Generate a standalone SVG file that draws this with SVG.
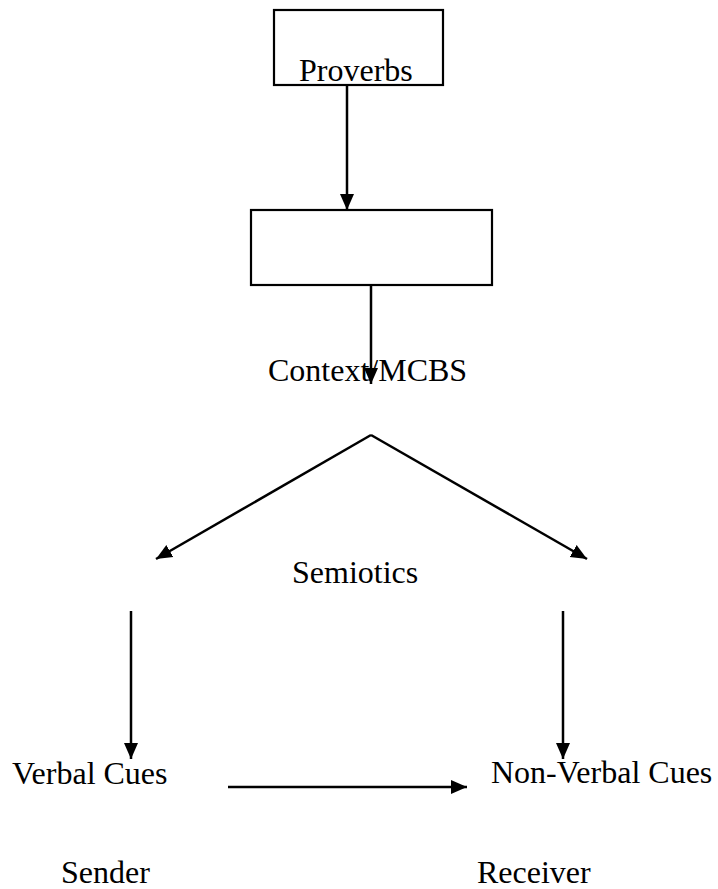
<svg xmlns="http://www.w3.org/2000/svg" width="718" height="889" viewBox="0 0 718 889">
<style>
text{font-family:"Liberation Serif","Times New Roman",serif;font-size:32px;fill:#000}
.box{fill:#fff;stroke:#000;stroke-width:2.2}
.c{fill:none;stroke:#000;stroke-width:2.5}
</style>
<defs>
<marker id="ah" markerUnits="userSpaceOnUse" markerWidth="18" markerHeight="16" refX="16" refY="8" orient="auto">
<path d="M0,1 L16,8 L0,15 Z" fill="#000"/>
</marker>
</defs>
<rect width="718" height="889" fill="#fff"/>
<g id="connectors">
<line class="c" x1="347" y1="85" x2="347" y2="210" marker-end="url(#ah)"/>
<line class="c" x1="371" y1="285" x2="371" y2="384" marker-end="url(#ah)"/>
<line class="c" x1="371" y1="435" x2="156" y2="559" marker-end="url(#ah)"/>
<line class="c" x1="371" y1="435" x2="587" y2="559" marker-end="url(#ah)"/>
<line class="c" x1="131" y1="611" x2="131" y2="759" marker-end="url(#ah)"/>
<line class="c" x1="563" y1="611" x2="563" y2="759" marker-end="url(#ah)"/>
<line class="c" x1="228" y1="787" x2="467" y2="787" marker-end="url(#ah)"/>
</g>
<g id="proverbs">
<rect class="box" x="274" y="10" width="169" height="75"/>
<text x="299" y="81">Proverbs</text>
</g>
<g id="box2">
<rect class="box" x="251" y="210" width="241" height="75"/>
</g>
<g id="context"><text x="268" y="381">Context/MCBS</text></g>
<g id="semiotics"><text x="292" y="583">Semiotics</text></g>
<g id="verbal"><text x="12" y="784">Verbal Cues</text></g>
<g id="nonverbal"><text x="491" y="783">Non-Verbal Cues</text></g>
<g id="sender"><text x="61" y="883">Sender</text></g>
<g id="receiver"><text x="477" y="883">Receiver</text></g>
</svg>
